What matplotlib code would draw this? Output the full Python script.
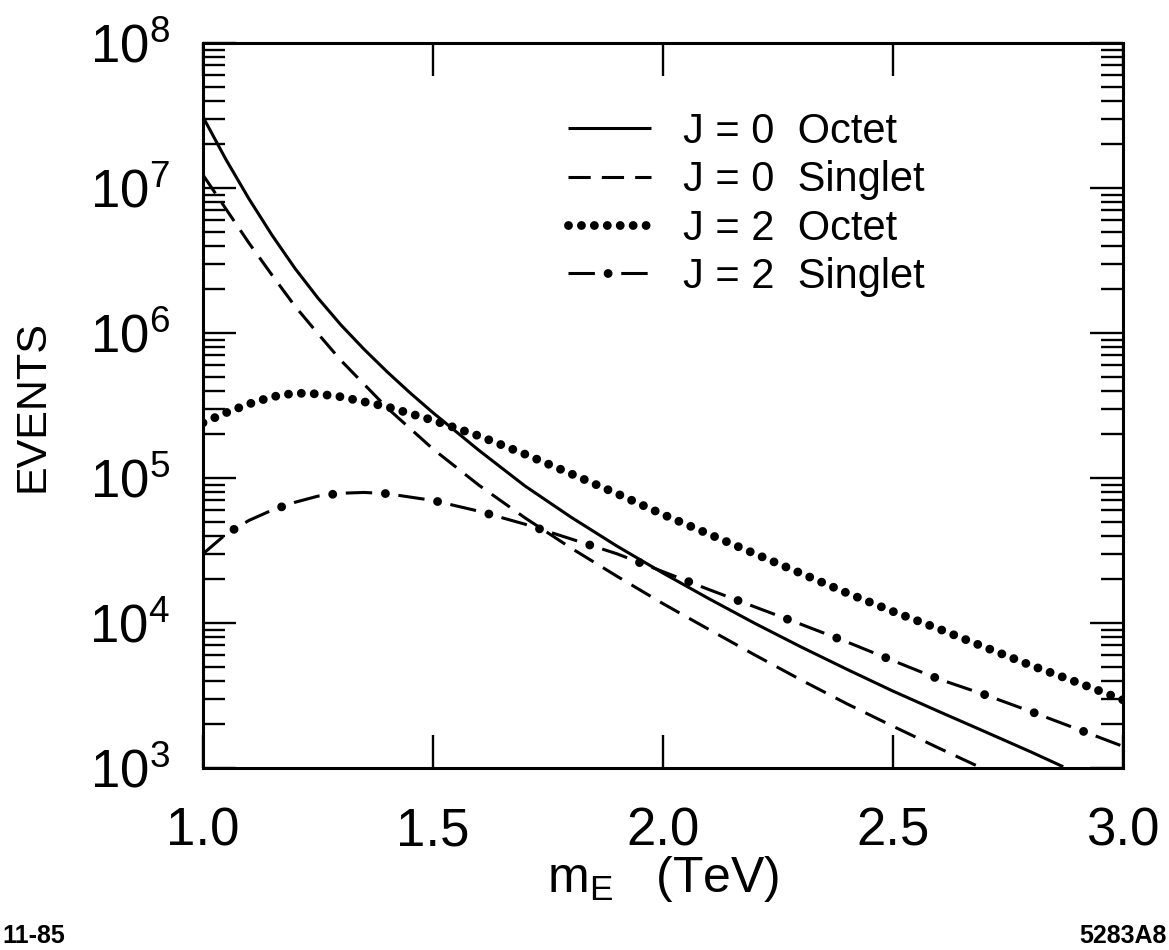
import math
import matplotlib
matplotlib.use("Agg")
import matplotlib.pyplot as plt
from matplotlib.ticker import LogLocator, FuncFormatter, FixedLocator, NullLocator, NullFormatter
from matplotlib.legend_handler import HandlerTuple

plt.rcParams['font.family'] = ['Liberation Sans', 'DejaVu Sans']
plt.rcParams['mathtext.default'] = 'regular'
plt.rcParams['lines.scale_dashes'] = False

# ---- data (m_E in TeV, events) ----
m_j0_octet = [1.0, 1.05, 1.1, 1.15, 1.2, 1.25, 1.3, 1.35, 1.4, 1.45, 1.5, 1.6, 1.7, 1.8, 1.9,
              2.0, 2.1, 2.2, 2.3, 2.4, 2.5, 2.6, 2.7, 2.8, 2.87]
ev_j0_octet = [3.09e7, 1.57e7, 8.41e6, 4.73e6, 2.79e6, 1.74e6, 1.135e6, 7.73e5, 5.41e5, 3.87e5,
               2.82e5, 1.55e5, 8.81e4, 5.37e4, 3.39e4, 2.21e4, 1.47e4, 9.93e3, 6.84e3, 4.79e3,
               3.39e3, 2.45e3, 1.78e3, 1.29e3, 1.02e3]

m_j0_singlet = [1.0, 1.05, 1.1, 1.15, 1.2, 1.25, 1.3, 1.4, 1.5, 1.6, 1.7, 1.8, 1.9, 2.0,
                2.1, 2.2, 2.3, 2.4, 2.5, 2.6, 2.7]
ev_j0_singlet = [1.23e7, 7.16e6, 4.17e6, 2.51e6, 1.53e6, 9.89e5, 6.46e5, 3.05e5, 1.585e5, 8.91e4,
                 5.31e4, 3.29e4, 2.10e4, 1.36e4, 9.02e3, 6.01e3, 4.05e3, 2.77e3, 1.94e3, 1.37e3,
                 9.75e2]

m_j2_octet = [1.0, 1.05, 1.1, 1.15, 1.2, 1.25, 1.3, 1.4, 1.5, 1.6, 1.7, 1.8, 1.9, 2.0, 2.1,
              2.2, 2.3, 2.4, 2.5, 2.6, 2.7, 2.8, 2.9, 3.0]
ev_j2_octet = [2.4e5, 2.82e5, 3.24e5, 3.63e5, 3.85e5, 3.8e5, 3.63e5, 3.1e5, 2.5e5, 1.95e5,
               1.46e5, 1.07e5, 7.8e4, 5.6e4, 4.1e4, 3.0e4, 2.2e4, 1.61e4, 1.2e4, 9.1e3,
               6.8e3, 5.1e3, 3.9e3, 2.95e3]

m_j2_singlet = [1.0, 1.05, 1.1, 1.15, 1.2, 1.25, 1.3, 1.35, 1.4, 1.5, 1.6, 1.7, 1.8, 1.9, 2.0,
                2.1, 2.2, 2.3, 2.4, 2.5, 2.6, 2.7, 2.8, 2.9, 3.0]
ev_j2_singlet = [3.0e4, 4.1e4, 5.1e4, 6.0e4, 6.8e4, 7.5e4, 7.85e4, 7.95e4, 7.8e4, 7.0e4,
                 5.9e4, 4.8e4, 3.8e4, 3.0e4, 2.26e4, 1.7e4, 1.29e4, 9.8e3, 7.4e3, 5.5e3,
                 4.1e3, 3.2e3, 2.45e3, 1.86e3, 1.41e3]

series_labels = ["J = 0  Octet", "J = 0  Singlet", "J = 2  Octet", "J = 2  Singlet"]
x_ticks = [1.0, 1.5, 2.0, 2.5, 3.0]
x_tick_labels = ["1.0", "1.5", "2.0", "2.5", "3.0"]

# ---- figure ----
W, H = 1169, 950
fig = plt.figure(figsize=(W / 100, H / 100), dpi=100)
ax = fig.add_axes([203 / W, 1 - 768 / H, 920 / W, 725 / H])

LW = 2.2
solid, = ax.plot(m_j0_octet, ev_j0_octet, color='black', lw=LW, solid_capstyle='butt')
dashed, = ax.plot(m_j0_singlet, ev_j0_singlet, color='black', lw=LW,
                  linestyle=(0, (16, 8)), dash_capstyle='butt')
dotted, = ax.plot(m_j2_octet, ev_j2_octet, color='black', lw=6.4,
                  linestyle=(0, (0.01, 9.3)), dash_capstyle='round')
dd_a, = ax.plot(m_j2_singlet, ev_j2_singlet, color='black', lw=LW,
                linestyle=(0, (19, 19)), dash_capstyle='butt')
dd_b, = ax.plot(m_j2_singlet, ev_j2_singlet, color='black', lw=6.4,
                linestyle=(9.5, (0.01, 38)), dash_capstyle='round')

ax.set_yscale('log')
ax.set_xlim(1.0, 3.0)
ax.set_ylim(1e3, 1e8)

for sp in ax.spines.values():
    sp.set_linewidth(2.2)

ax.xaxis.set_major_locator(FixedLocator(x_ticks))
ax.set_xticklabels(x_tick_labels)
ax.xaxis.set_minor_locator(NullLocator())
ax.yaxis.set_major_locator(LogLocator(base=10, numticks=10))
ax.yaxis.set_minor_locator(LogLocator(base=10, subs=range(2, 10), numticks=100))
ax.yaxis.set_minor_formatter(NullFormatter())
ax.yaxis.set_major_formatter(FuncFormatter(lambda v, p: r"$\mathregular{10^{%d}}$" % round(math.log10(v))))

ax.tick_params(axis='both', which='major', direction='in', length=24, width=1.7,
               top=True, right=True, colors='black')
ax.tick_params(axis='both', which='minor', direction='in', length=16, width=1.7,
               top=True, right=True)
ax.tick_params(axis='x', which='major', pad=28, labelsize=38)
ax.tick_params(axis='y', which='major', pad=24, labelsize=38)

ax.set_ylabel("EVENTS", fontsize=31)
ax.yaxis.set_label_coords(-0.164, 0.5)
ax.set_xlabel(r"$\mathregular{m_E}$   (TeV)", fontsize=36)
ax.xaxis.set_label_coords(0.5, -0.118)

handles = [solid, dashed, dotted, (dd_a, dd_b)]
leg = fig.legend(handles, series_labels, loc='upper left',
                 bbox_to_anchor=(568 / W, 1 - 112 / H), bbox_transform=fig.transFigure,
                 frameon=False, fontsize=30, handlelength=2.0, handletextpad=0.75,
                 labelspacing=0.2, borderpad=0, borderaxespad=0,
                 handler_map={tuple: HandlerTuple(ndivide=1)})

fig.text(2 / W, 1 - 936 / H, "11-85", fontsize=18, fontweight='bold', ha='left', va='center')
fig.text(1167 / W, 1 - 936 / H, "5283A8", fontsize=18, fontweight='bold', ha='right', va='center')

fig.savefig("out.png", dpi=100)
